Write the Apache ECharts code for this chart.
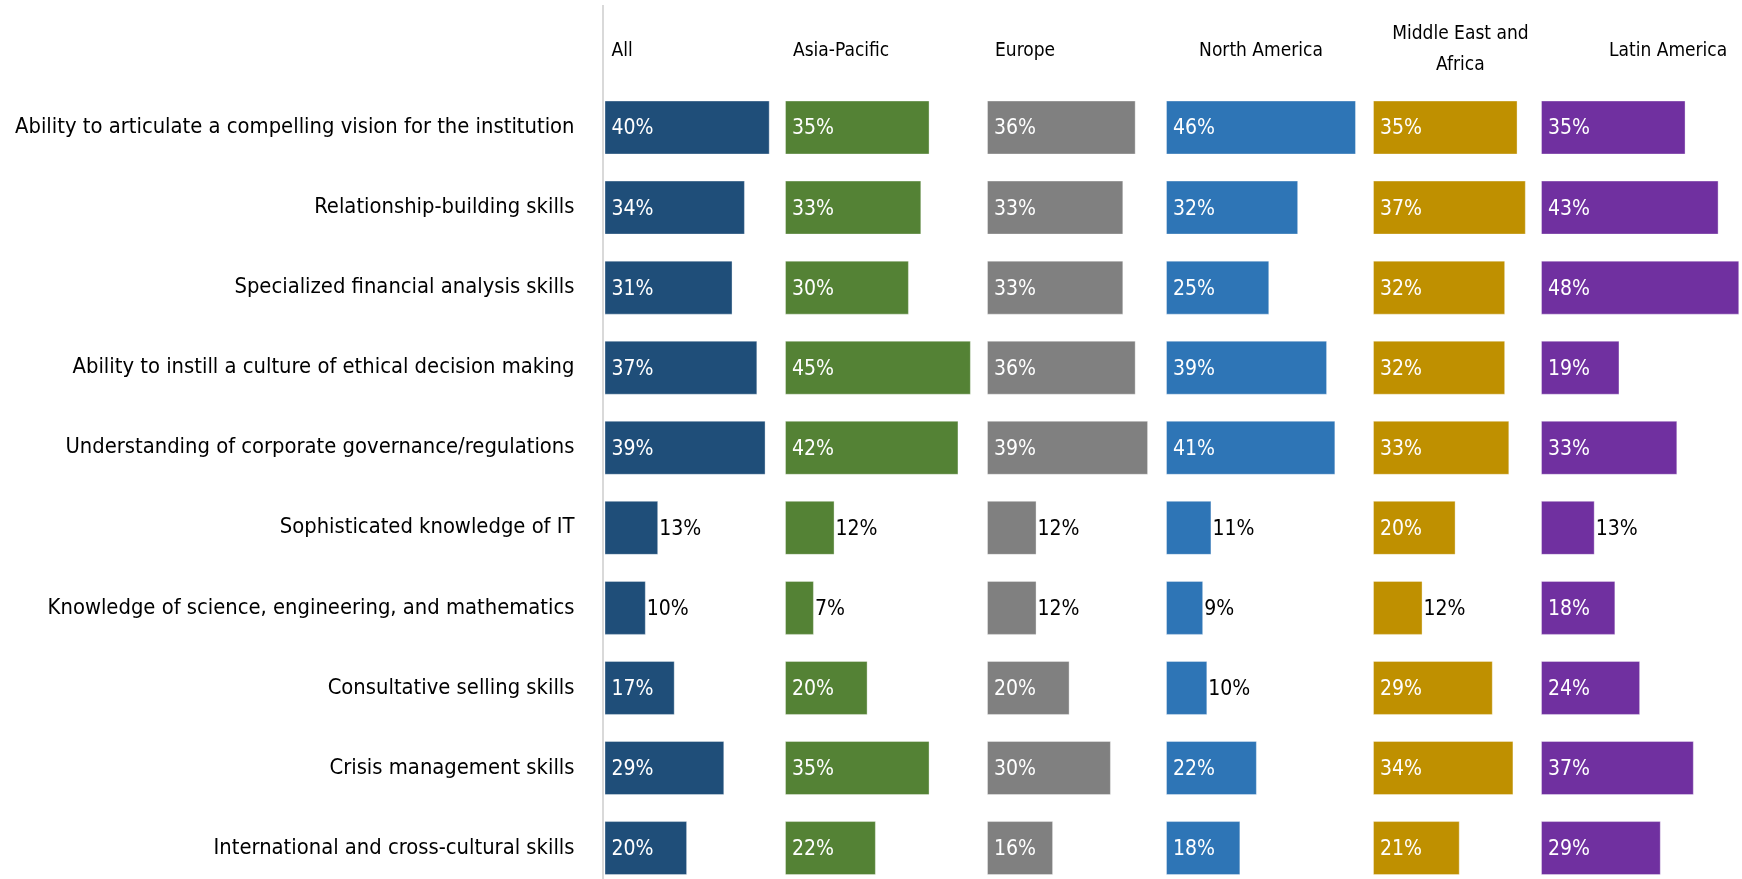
<!DOCTYPE html>
<html><head><meta charset="utf-8">
<script src="https://cdn.jsdelivr.net/npm/echarts@6/dist/echarts.min.js"></script>
<style>html,body{margin:0;padding:0;background:#fff}#c{width:1742px;height:879px}</style>
</head><body><div id="c"></div>
<script>
const categories = [
  'Ability to articulate a compelling vision for the institution',
  'Relationship-building skills',
  'Specialized financial analysis skills',
  'Ability to instill a culture of ethical decision making',
  'Understanding of corporate governance/regulations',
  'Sophisticated knowledge of IT',
  'Knowledge of science, engineering, and mathematics',
  'Consultative selling skills',
  'Crisis management skills',
  'International and cross-cultural skills'
];
const regions = ['All', 'Asia-Pacific', 'Europe', 'North America', 'Middle East and\nAfrica', 'Latin America'];
const allVals    = [40, 34, 31, 37, 39, 13, 10, 17, 29, 20];
const asiaVals   = [35, 33, 30, 45, 42, 12, 7, 20, 35, 22];
const europeVals = [36, 33, 33, 36, 39, 12, 12, 20, 30, 16];
const naVals     = [46, 32, 25, 39, 41, 11, 9, 10, 22, 18];
const meaVals    = [35, 37, 32, 32, 33, 20, 12, 29, 34, 21];
const laVals     = [35, 43, 48, 19, 33, 13, 18, 24, 37, 29];
const seriesVals = [allVals, asiaVals, europeVals, naVals, meaVals, laVals];
const colors = ['#1F4E79', '#548235', '#808080', '#2E75B6', '#BF9000', '#7030A0'];

const FONT = "'Liberation Sans Narrow', 'DejaVu Sans Condensed', sans-serif";
const PX = 4.13, TOP = 87.5, HEIGHT = 800.6;
const panelLeft = [604.5, 785, 987, 1166, 1373, 1541];
// header placement: [x offset from panel start (or 'c' for centered), align, shift]
const headerLayout = [[7, 'left', 0], [8, 'left', 0], [8, 'left', 0], ['c', 'center', 0], ['c', 'center', 11], [68, 'left', 0]];

const grids = [], xAxes = [], yAxes = [], series = [], graphics = [];
seriesVals.forEach((vals, i) => {
  const mx = Math.max(...vals);
  const w = mx * PX;
  const left = panelLeft[i];
  grids.push({ left: left, top: TOP, width: w, height: HEIGHT, containLabel: false, outerBoundsMode: 'none' });
  xAxes.push({ type: 'value', gridIndex: i, min: 0, max: mx, show: false });
  yAxes.push({
    type: 'category', gridIndex: i, data: categories, inverse: true,
    axisLine: { show: false }, axisTick: { show: false }, splitLine: { show: false },
    axisLabel: i === 0 ? { show: true, margin: 30, fontFamily: FONT, fontSize: 21.8, color: '#000', padding: [3, 0, 0, 0] } : { show: false }
  });
  series.push({
    type: 'bar', xAxisIndex: i, yAxisIndex: i, barWidth: 54,
    itemStyle: { color: colors[i], borderColor: 'rgba(255,255,255,0.35)', borderWidth: 1 },
    data: vals.map(v => ({
      value: v,
      label: v < 15
        ? { show: true, position: 'right', distance: 1, color: '#000' }
        : { show: true, position: 'insideLeft', distance: 7, color: '#fff' }
    })),
    label: { formatter: '{c}%', fontFamily: FONT, fontSize: 21, offset: [0, 1.5] },
    silent: true, animation: false
  });
  const hl = headerLayout[i];
  const hx = hl[0] === 'c' ? left + w / 2 + hl[2] : left + hl[0];
  graphics.push({
    type: 'text', x: hx, y: i === 4 ? 50 : 51,
    style: { text: regions[i], font: '19px ' + FONT, fill: '#000', textAlign: hl[1], textVerticalAlign: 'middle', lineHeight: 31 }
  });
});
graphics.push({ type: 'line', shape: { x1: 603, y1: 5, x2: 603, y2: 879 }, style: { stroke: '#D9D9D9', lineWidth: 2 }, silent: true });

const chart = echarts.init(document.getElementById('c'), null, { renderer: 'canvas' });
chart.setOption({
  backgroundColor: '#fff',
  animation: false,
  grid: grids, xAxis: xAxes, yAxis: yAxes, series: series,
  graphic: graphics
});
</script></body></html>
